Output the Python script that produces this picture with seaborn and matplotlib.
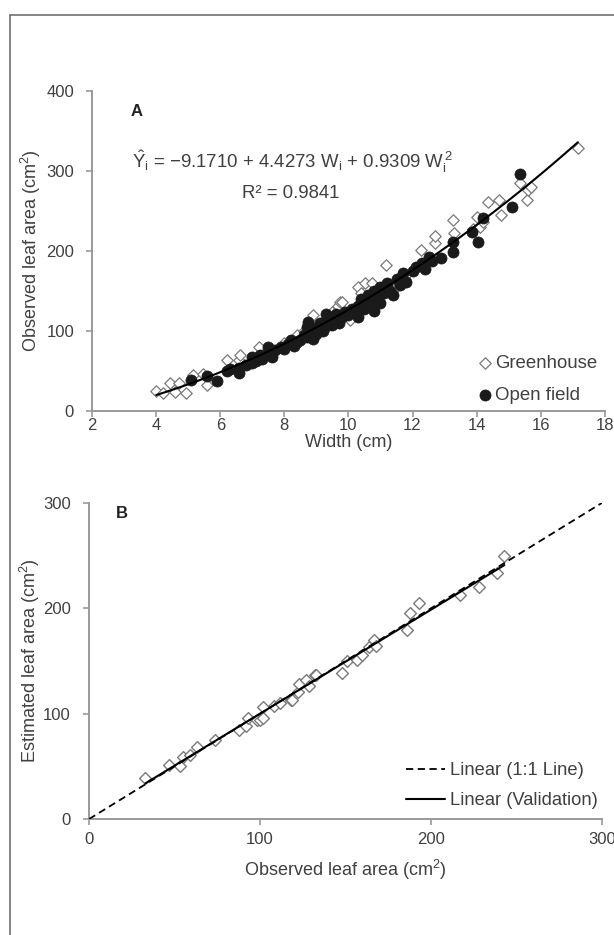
import numpy as np
import pandas as pd
import matplotlib
matplotlib.use("Agg")
import matplotlib.pyplot as plt
import seaborn as sns
from matplotlib.lines import Line2D

# ---------------- data ----------------
gh_width = [4.0, 4.22, 4.44, 4.6, 4.72, 4.94, 5.16, 5.47, 5.6, 6.2, 6.6, 6.62, 7.0, 7.2,
            7.6, 8.0, 8.4, 8.6, 8.9, 9.0, 9.2, 9.5, 9.66, 9.75, 9.8, 10.06, 10.3, 10.4,
            10.53, 10.75, 11.16, 11.4, 11.8, 12.25, 12.7, 12.7, 13.25, 13.3, 13.9, 14.0,
            14.1, 14.2, 14.34, 14.7, 14.75, 15.34, 15.56, 15.6, 15.7, 17.16]
gh_area = [26, 23, 35, 24, 36, 23, 45, 47, 33, 64, 64, 70, 62, 80,
           76, 85, 95, 100, 120, 108, 112, 124, 132, 136, 136, 114, 155, 148,
           160, 160, 182, 152, 170, 201, 210, 219, 239, 222, 228, 243,
           230, 236, 261, 264, 245, 285, 264, 276, 280, 329]

of_width = [5.1, 5.6, 5.9, 6.2, 6.3, 6.6, 6.6, 6.8, 7.0, 7.0, 7.1, 7.25, 7.3, 7.5, 7.5,
            7.6, 7.7, 7.9, 8.0, 8.1, 8.2, 8.3, 8.4, 8.5, 8.6, 8.7, 8.7, 8.75, 8.8, 8.9,
            9.0, 9.0, 9.1, 9.2, 9.3, 9.3, 9.4, 9.5, 9.6, 9.6, 9.7, 9.8, 9.9, 10.0, 10.1,
            10.2, 10.3, 10.3, 10.4, 10.5, 10.5, 10.6, 10.6, 10.7, 10.8, 10.8, 10.9, 11.0,
            11.0, 11.1, 11.2, 11.3, 11.4, 11.5, 11.6, 11.7, 11.8, 12.0, 12.1, 12.3, 12.4,
            12.5, 12.6, 12.9, 13.25, 13.25, 13.85, 14.05, 14.2, 15.1, 15.35]
of_area = [39, 44, 38, 50, 53, 54, 48, 58, 68, 60, 63, 70, 65, 80, 72,
           68, 76, 80, 78, 84, 89, 82, 86, 89, 95, 105, 93, 111, 100, 90,
           97, 104, 110, 100, 122, 106, 112, 108, 122, 115, 110, 118, 124, 120, 128,
           124, 118, 132, 140, 128, 134, 145, 130, 138, 150, 125, 142, 155,
           135, 148, 160, 150, 145, 165, 158, 172, 162, 175, 180, 185, 178,
           192, 188, 191, 211, 199, 224, 211, 241, 255, 296]

val_observed = [33, 47, 53, 55, 59, 63, 74, 88, 92, 93, 98, 100, 102, 102, 108, 112,
                118, 119, 122, 123, 127, 129, 132, 133, 148, 151, 157, 160, 164, 167,
                168, 186, 188, 193, 217, 228, 239, 243]
val_estimated = [39, 51, 50, 59, 61, 68, 75, 85, 88, 96, 94, 94, 96, 106, 107, 110,
                 113, 113, 121, 128, 132, 126, 137, 137, 139, 150, 151, 156, 163, 170,
                 164, 179, 196, 205, 213, 220, 234, 250]

one_to_one_x = [0, 300]
one_to_one_y = [0, 300]

x_ticks_a = [2, 4, 6, 8, 10, 12, 14, 16, 18]
y_ticks_a = [0, 100, 200, 300, 400]
ticks_b = [0, 100, 200, 300]

# ---------------- style ----------------
sns.set_theme(style="white")
plt.rcParams["font.family"] = ["Liberation Sans", "DejaVu Sans"]
plt.rcParams["mathtext.fontset"] = "custom"
plt.rcParams["mathtext.rm"] = "Liberation Sans"
plt.rcParams["mathtext.it"] = "Liberation Sans"
plt.rcParams["mathtext.bf"] = "Liberation Sans:bold"

TXT = "#404040"
SPINE = "#9a9a9a"
TICK_FS = 12
LAB_FS = 13
LEG_FS = 13.4

fig = plt.figure(figsize=(6.14, 9.35), dpi=100)
axA = fig.add_axes([0.150, 0.560, 0.835, 0.343])
axB = fig.add_axes([0.145, 0.124, 0.835, 0.338])

# outer frame (left and top edges)
fig.add_artist(Line2D([10/614, 10/614], [0, 1-15/935], transform=fig.transFigure,
                      color="#707070", lw=1.2))
fig.add_artist(Line2D([10/614, 1], [1-15/935, 1-15/935], transform=fig.transFigure,
                      color="#707070", lw=1.2))

def style_axis(ax, xpad):
    sns.despine(ax=ax)
    for s in ["left", "bottom"]:
        ax.spines[s].set_color(SPINE)
        ax.spines[s].set_linewidth(1.4)
    ax.tick_params(axis="both", direction="out", length=4, width=1.2, color=SPINE,
                   labelsize=TICK_FS, labelcolor=TXT)
    ax.tick_params(axis="y", pad=9)
    ax.tick_params(axis="x", pad=xpad)
    ax.tick_params(left=True, bottom=True)

# ---------------- panel A ----------------
sns.scatterplot(x=gh_width, y=gh_area, ax=axA, marker="D", s=34, color="white",
                edgecolor="#7a7a7a", linewidth=0.9, label="Greenhouse", zorder=3)
sns.scatterplot(x=of_width, y=of_area, ax=axA, marker="o", s=64, color="#1a1a1a",
                edgecolor="#1a1a1a", linewidth=0.5, label="Open field", zorder=4)
all_w = pd.Series(gh_width + of_width)
all_a = pd.Series(gh_area + of_area)
sns.regplot(x=all_w, y=all_a, order=2, scatter=False, ci=None, truncate=True, ax=axA,
            color="black", line_kws={"lw": 1.5, "zorder": 5})
axA.set_xlim(2, 18)
axA.set_ylim(0, 400)
axA.set_xticks(x_ticks_a)
axA.set_yticks(y_ticks_a)
style_axis(axA, xpad=0.5)
axA.set_xlabel("Width (cm)", fontsize=LAB_FS, color=TXT, labelpad=1)
axA.set_ylabel("Observed leaf area (cm$^2$)", fontsize=LAB_FS, color=TXT, labelpad=2)
axA.text(3.2, 374, "A", fontsize=12, fontweight="bold", color="#222222", va="center")
axA.text(8.25, 311, r"$\hat{\mathrm{Y}}_{\mathrm{i}}$ = −9.1710 + 4.4273 W$_{\mathrm{i}}$ + 0.9309 W$_{\mathrm{i}}^{\,2}$",
         fontsize=13.4, color=TXT, ha="center", va="center")
axA.text(8.2, 272, "R² = 0.9841", fontsize=13.4, color=TXT, ha="center", va="center")
hA, lA = axA.get_legend_handles_labels()
legA = axA.legend(hA[:2], lA[:2], loc="lower right", bbox_to_anchor=(1.0, 0.0), frameon=False,
                  fontsize=LEG_FS, handlelength=0.6, handletextpad=0.25, borderpad=0.2,
                  labelspacing=0.8, markerscale=1.0, borderaxespad=0.2)
for t in legA.get_texts():
    t.set_color(TXT)

# ---------------- panel B ----------------
sns.scatterplot(x=val_observed, y=val_estimated, ax=axB, marker="D", s=36, color="white",
                edgecolor="#7a7a7a", linewidth=1.0, zorder=3, legend=False)
sns.lineplot(x=one_to_one_x, y=one_to_one_y, ax=axB, color="black", lw=1.3,
             linestyle=(0, (4, 2.5)), zorder=4)
dash_line = axB.lines[-1]
sns.regplot(x=pd.Series(val_observed), y=pd.Series(val_estimated), scatter=False, ci=None,
            truncate=True, ax=axB, color="black", line_kws={"lw": 1.5, "zorder": 5})
val_line = axB.lines[-1]
axB.set_xlim(0, 300)
axB.set_ylim(0, 300)
axB.set_xticks(ticks_b)
axB.set_yticks(ticks_b)
style_axis(axB, xpad=5)
axB.set_xlabel("Observed leaf area (cm$^2$)", fontsize=LAB_FS, color=TXT, labelpad=8.5)
axB.set_ylabel("Estimated leaf area (cm$^2$)", fontsize=LAB_FS, color=TXT, labelpad=1)
axB.text(16, 290, "B", fontsize=12, fontweight="bold", color="#222222", va="center")
legB = axB.legend([dash_line, val_line], ["Linear (1:1 Line)", "Linear (Validation)"],
                  loc="lower right", bbox_to_anchor=(1.0, 0.02), frameon=False,
                  fontsize=13.2, handlelength=2.1, handletextpad=0.3, borderpad=0.2,
                  labelspacing=0.7, borderaxespad=0.0)
for t in legB.get_texts():
    t.set_color(TXT)

fig.savefig("out.png", dpi=100)
